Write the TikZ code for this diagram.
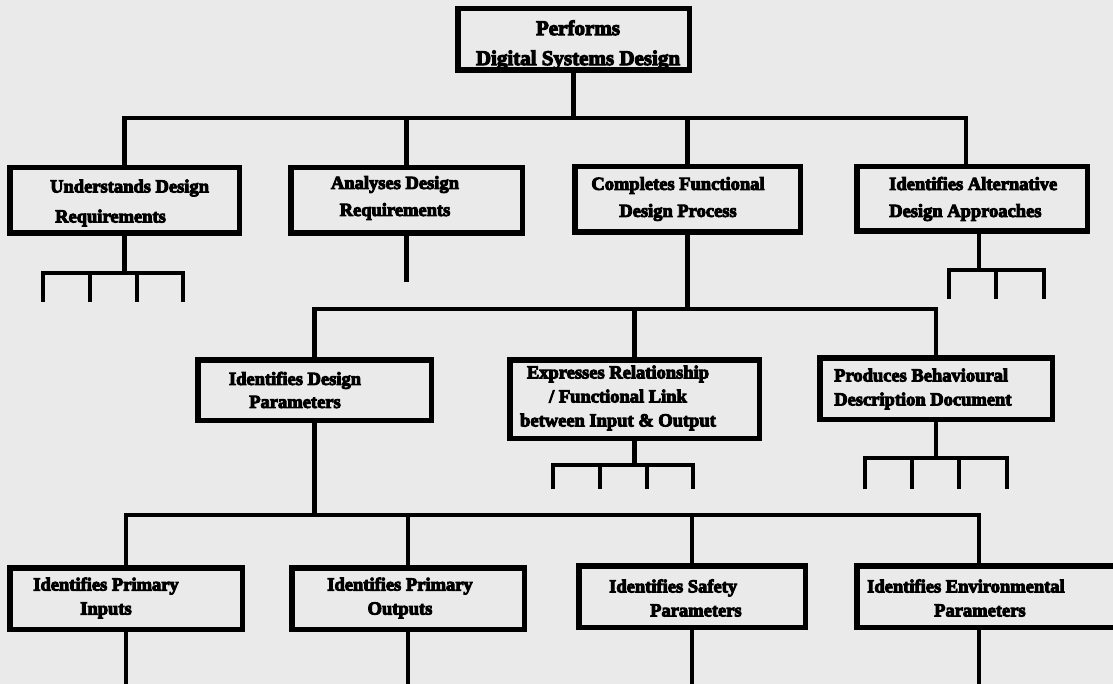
\documentclass[tikz,border=0pt]{standalone}
\usepackage{fontspec}
\setmainfont{Liberation Serif}[BoldFeatures={FakeBold=5}]
\definecolor{paper}{RGB}{234,234,234}
\newcommand{\bx}[5]{\node[box, minimum width={#4-#2-5.5}, minimum height={#5-#3-5.5}] (#1) at ({(#2+#4)/2},{(#3+#5)/2}) {};}
\begin{document}
\begin{tikzpicture}[x=1pt,y=-1pt,
  conn/.style={line width=4.6pt, line join=miter},
  box/.style={draw, line width=5.5pt, rectangle, inner sep=0pt},
  lbl/.style={font=\fontsize{18.5}{24}\selectfont\bfseries, inner sep=0pt, align=center},
]
\useasboundingbox (0,0) rectangle (1113,684);
\fill[paper] (0,0) rectangle (1113,684);
\clip (0,0) rectangle (1113,684);

% ---------- boxes ----------
\bx{T}{455}{6}{692}{73}
\bx{A}{7}{165}{242}{236}
\bx{B}{288}{165}{525}{236}
\bx{C}{572}{164}{803}{235}
\bx{D}{854}{164}{1090}{234}
\bx{P}{195}{357}{434}{423}
\bx{E}{507}{357}{762}{441}
\bx{R}{817}{355}{1055}{422}
\bx{I}{7}{565}{245}{632}
\bx{O}{289}{565}{527}{632}
\bx{S}{576}{563}{808}{630}
\bx{V}{854}{563}{1135}{630}

% ---------- labels ----------
\node[lbl, font=\fontsize{21}{30}\selectfont\bfseries] (Tt) at (578,45) {Performs\\Digital Systems Design};
\node[lbl, align=left, anchor=west, font=\fontsize{18.5}{30}\selectfont\bfseries] (At) at (50,203) {Understands Design\\\hspace*{5pt}Requirements};
\node[lbl, font=\fontsize{18.5}{27}\selectfont\bfseries] (Bt) at (395,198) {Analyses Design\\Requirements};
\node[lbl, font=\fontsize{18.5}{27}\selectfont\bfseries] (Ct) at (678,199) {Completes Functional\\Design Process};
\node[lbl, align=left, anchor=west, font=\fontsize{18.5}{27}\selectfont\bfseries] (Dt) at (889,199) {Identifies Alternative\\Design Approaches};
\node[lbl, font=\fontsize{18.5}{23}\selectfont\bfseries] (Pt) at (295,390) {Identifies Design\\Parameters};
\node[lbl] (Et) at (618,398) {Expresses Relationship\\/ Functional Link\\between Input \& Output};
\node[lbl, align=left, anchor=west] (Rt) at (834,389) {Produces Behavioural\\Description Document};
\node[lbl] (It) at (106,598) {Identifies Primary\\Inputs};
\node[lbl] (Ot) at (400,598) {Identifies Primary\\Outputs};
\node[lbl, align=left, anchor=west] (St) at (609,598) {Identifies Safety\\\hspace*{41pt}Parameters};
\node[lbl, align=left, anchor=west] (Vt) at (867,598) {Identifies Environmental\\\hspace*{67pt}Parameters};

% ---------- helper coordinates ----------
\coordinate (h1) at (0,118);
\coordinate (h2) at (0,309);
\coordinate (h3) at (0,515);
\coordinate (bot) at (0,692);
\coordinate (Dn) at (966,0);
\coordinate (Ds) at (979,0);
\coordinate (Vx) at (979,0);

% ---------- level 1 ----------
\draw[conn] (T.south) -- (T.south |- h1);
\draw[conn] (A.north) -- (A.north |- h1) -- (Dn |- h1) -- (Dn |- D.north);
\draw[conn] (B.north) -- (B.north |- h1);
\draw[conn] (C.north) -- (C.north |- h1);

% under A
\coordinate (hA) at (0,273);
\foreach \x [count=\i] in {43,90,137,183} {\coordinate (A\i) at (\x,302);}
\draw[conn] (A.south) -- (A.south |- hA);
\draw[conn] (A1) -- (A1 |- hA) -- (A4 |- hA) -- (A4);
\draw[conn] (A2) -- (A2 |- hA);
\draw[conn] (A3) -- (A3 |- hA);

% under B
\coordinate (Bend) at (406,282);
\draw[conn] (B.south) -- (B.south |- Bend);

% under D
\coordinate (hD) at (0,270);
\foreach \x [count=\i] in {949,996,1044} {\coordinate (D\i) at (\x,299);}
\draw[conn] (Ds |- D.south) -- (Ds |- hD);
\draw[conn] (D1) -- (D1 |- hD) -- (D3 |- hD) -- (D3);
\draw[conn] (D2) -- (D2 |- hD);

% ---------- level 2 ----------
\draw[conn] (C.south) -- (C.south |- h2);
\draw[conn] (P.north) -- (P.north |- h2) -- (R.north |- h2) -- (R.north);
\draw[conn] (E.north) -- (E.north |- h2);

% under E
\coordinate (hE) at (0,465);
\foreach \x [count=\i] in {553,600,647,693} {\coordinate (E\i) at (\x,489);}
\draw[conn] (E.south) -- (E.south |- hE);
\draw[conn] (E1) -- (E1 |- hE) -- (E4 |- hE) -- (E4);
\draw[conn] (E2) -- (E2 |- hE);
\draw[conn] (E3) -- (E3 |- hE);

% under R
\coordinate (hR) at (0,458);
\foreach \x [count=\i] in {865,912,959,1007} {\coordinate (R\i) at (\x,489);}
\draw[conn] (R.south) -- (R.south |- hR);
\draw[conn] (R1) -- (R1 |- hR) -- (R4 |- hR) -- (R4);
\draw[conn] (R2) -- (R2 |- hR);
\draw[conn] (R3) -- (R3 |- hR);

% ---------- level 3 ----------
\draw[conn] (P.south) -- (P.south |- h3);
\draw[conn] (I.north) -- (I.north |- h3) -- (Vx |- h3) -- (Vx |- V.north);
\draw[conn] (O.north) -- (O.north |- h3);
\draw[conn] (S.north) -- (S.north |- h3);

% stems below bottom boxes
\draw[conn] (I.south) -- (I.south |- bot);
\draw[conn] (O.south) -- (O.south |- bot);
\draw[conn] (S.south) -- (S.south |- bot);
\draw[conn] (Vx |- V.south) -- (Vx |- bot);
\end{tikzpicture}
\end{document}
